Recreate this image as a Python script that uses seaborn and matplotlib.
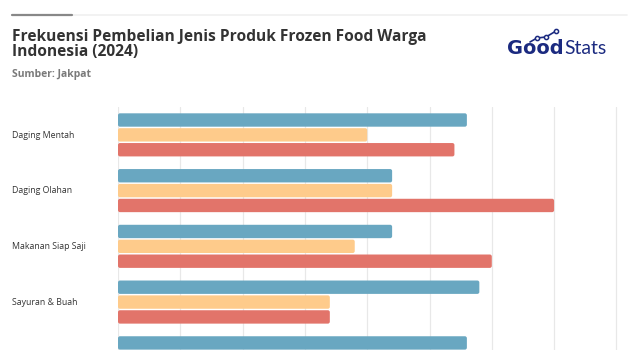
import matplotlib
matplotlib.use("Agg")
import matplotlib.pyplot as plt
from matplotlib.patches import FancyBboxPatch
from matplotlib.lines import Line2D
import pandas as pd
import seaborn as sns

# Purchase frequency of frozen-food product types (percent of respondents)
categories = ["Daging Mentah", "Daging Olahan", "Makanan Siap Saji",
              "Sayuran & Buah", "Makanan Laut"]
series_names = ["Sering", "Kadang-kadang", "Jarang"]
sering = [56, 44, 44, 58, 56]
kadang = [40, 44, 38, 34, 40]
jarang = [54, 70, 60, 34, 50]
palette = ["#69A7C1", "#FECB8B", "#E2746A"]

df = pd.DataFrame({
    "kategori": categories * 3,
    "kelompok": [series_names[0]] * 5 + [series_names[1]] * 5 + [series_names[2]] * 5,
    "nilai": sering + kadang + jarang,
})

sns.set_theme(style="white")
plt.rcParams["font.family"] = ["Open Sans", "DejaVu Sans"]

fig = plt.figure(figsize=(6.4, 3.5), dpi=100)
fig.patch.set_facecolor("white")

W, H = 640, 350
ax = fig.add_axes([118 / W, 0, 1 - 118 / W, (350 - 107) / H])

sns.barplot(data=df, y="kategori", x="nilai", hue="kelompok",
            order=categories, hue_order=series_names, palette=palette,
            orient="h", width=0.8, saturation=1, legend=False, ax=ax, zorder=3)

ax.set_xlim(0, (640 - 118) / 62.3 * 10)
ax.set_ylim(3.86, -0.5)

# rounded bars with a small gap between neighbours
x_unit_px = 62.3 / 10
y_unit_px = 55.7
r_px = 2.0
for p in list(ax.patches):
    x, y = p.get_x(), p.get_y()
    w, h = p.get_width(), p.get_height()
    fc = p.get_facecolor()
    p.remove()
    hh = h * 0.9
    yy = y + (h - hh) / 2
    fb = FancyBboxPatch((x, yy), w, hh,
                        boxstyle=f"round,pad=0,rounding_size={r_px / x_unit_px}",
                        mutation_aspect=(1 / y_unit_px) / (1 / x_unit_px),
                        facecolor=fc, edgecolor="none", zorder=3)
    ax.add_patch(fb)

ax.set_xticks(range(0, 90, 10))
ax.xaxis.grid(True, color="#e8e8e8", linewidth=0.9, zorder=0)
ax.yaxis.grid(False)
ax.tick_params(axis="x", labelbottom=False, length=0)
ax.tick_params(axis="y", length=0)
ax.set_yticklabels([])
ax.set_xlabel("")
ax.set_ylabel("")
for s in ax.spines.values():
    s.set_visible(False)

# category labels at the left margin (only rows inside the canvas)
for i, c in enumerate(categories):
    ycen = 135 + i * 55.7
    if ycen > H - 6:
        continue
    fig.text(12 / W, 1 - ycen / H, c, ha="left", va="center",
             fontsize=6.3, color="#333333")

# header rule
fig.add_artist(Line2D([12 / W, 627 / W], [1 - 15 / H] * 2, color="#f0f0f0", lw=1.2))
fig.add_artist(Line2D([12 / W, 72 / W], [1 - 15 / H] * 2, color="#888888", lw=1.6))

fig.text(12 / W, 1 - 29 / H,
         "Frekuensi Pembelian Jenis Produk Frozen Food Warga\nIndonesia (2024)",
         ha="left", va="top", fontsize=11.2, fontweight="bold", color="#333333",
         linespacing=0.95)
fig.text(12 / W, 1 - 75 / H, "Sumber: Jakpat", ha="left", va="center",
         fontsize=7.5, fontweight="bold", color="#7a7a7a")

# GoodStats wordmark: both words share one size, fitted to the logo box
navy = "#1B2A80"
renderer = fig.canvas.get_renderer()
x_left, x_right, y_mid = 507, 607, 49
t_good = fig.text(x_left / W, 1 - y_mid / H, "Good", ha="left", va="center",
                  fontsize=10, fontweight="bold", color=navy,
                  family=["DejaVu Sans"])
t_stats = fig.text(0, 1 - y_mid / H, "Stats", ha="left", va="center",
                   fontsize=10, fontweight="normal", color=navy,
                   family=["Lato", "DejaVu Sans"])
w_good = t_good.get_window_extent(renderer).width
w_stats = t_stats.get_window_extent(renderer).width
scale = (x_right - x_left - 1) / (w_good + w_stats)
t_good.set_fontsize(10 * scale)
t_stats.set_fontsize(10 * scale)
t_stats.set_x((x_left + w_good * scale + 1) / W)

# little trend-line icon sitting on the "oo"
px = [530, 537, 546, 556]
py = [42, 38, 37, 31]
fig.add_artist(Line2D([v / W for v in px], [1 - v / H for v in py], color=navy,
                      lw=1.2, zorder=5))
fig.add_artist(Line2D([v / W for v in px[1:]], [1 - v / H for v in py[1:]],
                      linestyle="none", marker="o", markersize=3.0,
                      markerfacecolor="white", markeredgecolor=navy,
                      markeredgewidth=1.1, zorder=6))

fig.savefig("out.png", dpi=100, facecolor="white")
